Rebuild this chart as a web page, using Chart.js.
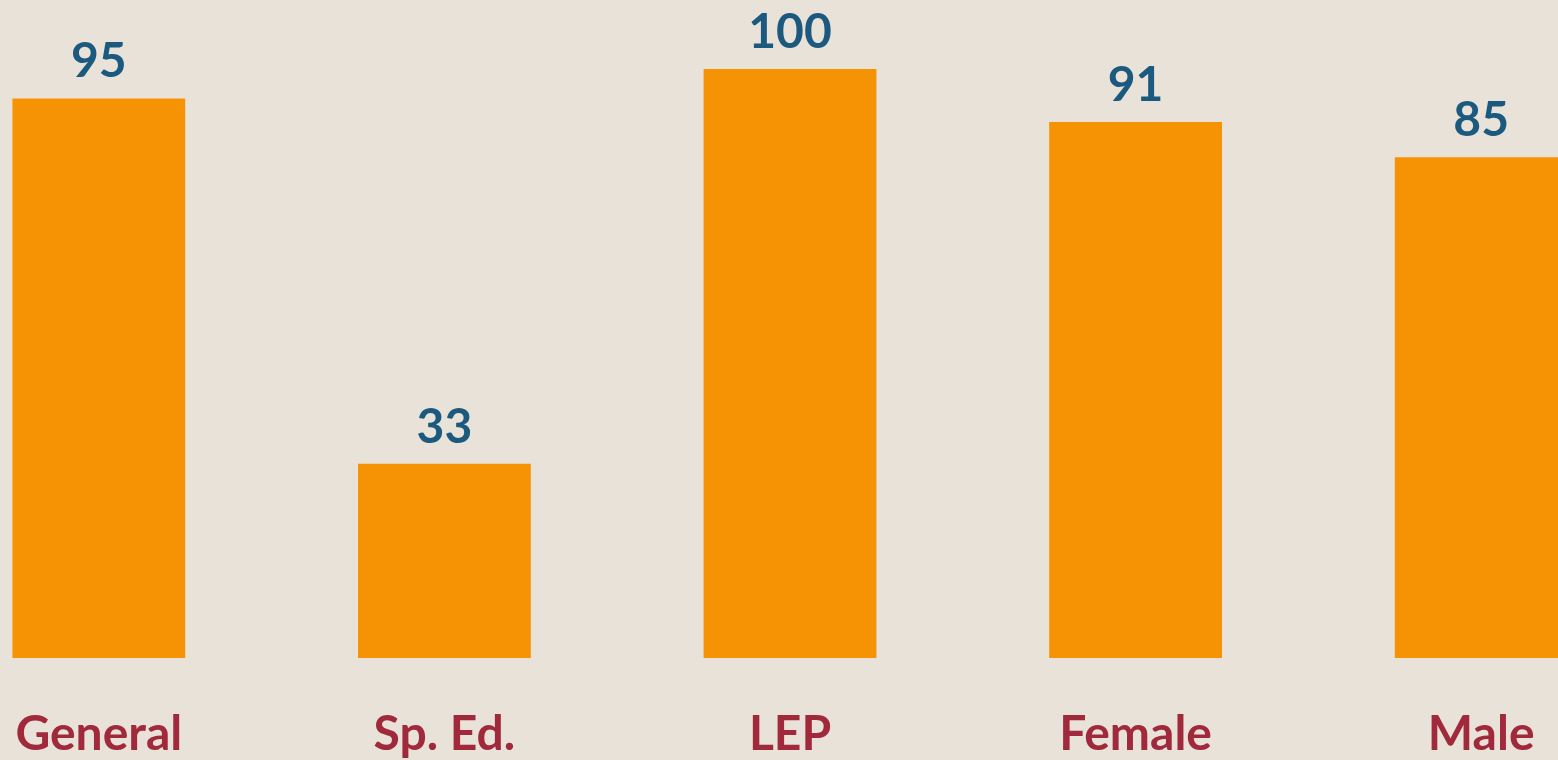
<!DOCTYPE html>
<html lang="en">
<head>
<meta charset="utf-8">
<title>Group scores</title>
<script src="https://cdn.jsdelivr.net/npm/chart.js@4/dist/chart.umd.min.js"></script>
<style>
    html, body {
        margin: 0;
        padding: 0;
        width: 1558px;
        height: 760px;
        overflow: hidden;
        background: #E9E2D9;
    }

    /* chart is wider than the window: first and last bars run off the edges */
    #chartWrap {
        position: absolute;
        left: -74px;
        top: 0;
        width: 1728px;
        height: 760px;
    }
</style>
</head>
<body>

<div id="chartWrap">
    <canvas id="scoreChart"></canvas>
</div>

<script>
"use strict";

/*==========================================================
    DATA
==========================================================*/

const categories = ["General", "Sp. Ed.", "LEP", "Female", "Male"];

const scores = [95, 33, 100, 91, 85];

const valueMin = 0;
const valueMax = 100;



/*==========================================================
    STYLE
==========================================================*/

const colors = {
    bar: "#F59305",
    value: "#1B5A7E",
    category: "#A02A3B"
};

const labelFont = "700 48px Lato, 'Open Sans', sans-serif";



/*==========================================================
    LABEL PLUGIN
    Values above each bar, category names under the chart.
==========================================================*/

const barLabels = {

    id: "barLabels",

    afterDatasetsDraw(chart) {

        const ctx = chart.ctx;
        const meta = chart.getDatasetMeta(0);

        ctx.save();
        ctx.font = labelFont;
        ctx.textAlign = "center";
        ctx.textBaseline = "alphabetic";

        meta.data.forEach((bar, index) => {

            ctx.fillStyle = colors.value;
            ctx.fillText(String(scores[index]), bar.x, bar.y - 21);

            ctx.fillStyle = colors.category;
            ctx.fillText(categories[index], bar.x, 750);

        });

        ctx.restore();

    }

};



/*==========================================================
    CHART
==========================================================*/

new Chart(document.getElementById("scoreChart"), {

    type: "bar",

    data: {

        labels: categories,

        datasets: [
            {
                data: scores,
                backgroundColor: colors.bar,
                borderWidth: 0,
                barPercentage: 0.5,
                categoryPercentage: 1
            }
        ]

    },

    options: {

        responsive: true,
        maintainAspectRatio: false,
        animation: false,

        layout: {
            padding: { top: 69, bottom: 102, left: 0, right: 0 }
        },

        scales: {

            x: {
                display: false
            },

            y: {
                display: false,
                min: valueMin,
                max: valueMax
            }

        },

        plugins: {
            legend: { display: false },
            tooltip: { enabled: false }
        }

    },

    plugins: [barLabels]

});
</script>

</body>
</html>
